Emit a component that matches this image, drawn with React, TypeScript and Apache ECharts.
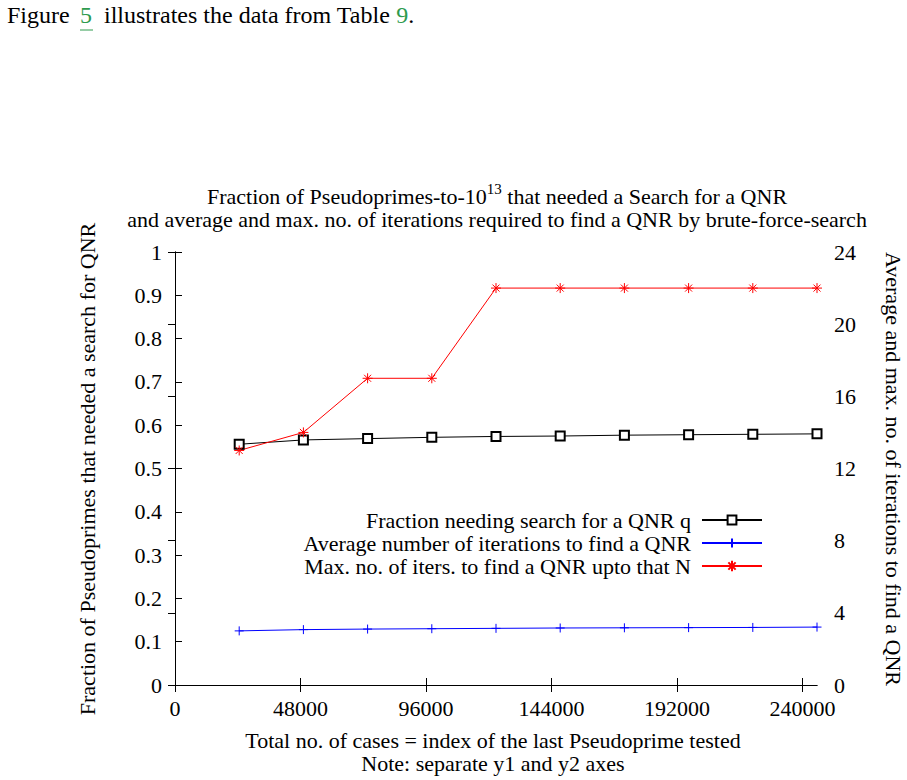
import React, { useEffect, useRef } from "react";
import * as echarts from "echarts";

const xCases = [24550, 49100, 73650, 98200, 122750, 147300, 171850, 196400, 220950, 245500];
const fractionNeeding = [0.556, 0.566, 0.569, 0.572, 0.574, 0.575, 0.577, 0.578, 0.579, 0.58];
const avgIterations = [3.0, 3.07, 3.1, 3.12, 3.14, 3.16, 3.17, 3.18, 3.19, 3.21];
const maxIterations = [13, 14, 17, 17, 22, 22, 22, 22, 22, 22];
const xTicks = [0, 48000, 96000, 144000, 192000, 240000];

const seriesNames = [
  "Fraction needing search for a QNR q",
  "Average number of iterations to find a QNR",
  "Max. no. of iters. to find a QNR upto that N",
];

const FONT = "Liberation Serif";
const GREEN = "#2e9b4e";
const FS = 22;

function zip(xs: number[], ys: number[]) {
  return xs.map((x, i) => [x, ys[i]]);
}

export default function App() {
  const ref = useRef<HTMLDivElement>(null);

  useEffect(() => {
    if (!ref.current) return;
    const chart = echarts.init(ref.current, undefined, { renderer: "svg" });
    const txt = { fontFamily: FONT, fontSize: FS, color: "#000" };
    const font = `${FS}px "${FONT}"`;
    const axisCommon = {
      axisLine: { show: true, lineStyle: { color: "#000", width: 1 } },
      axisTick: { show: true, inside: true, length: 7, lineStyle: { color: "#000", width: 1 } },
      splitLine: { show: false },
    };
    const legendCommon = {
      orient: "vertical",
      align: "right",
      right: 144,
      itemWidth: 60,
      itemHeight: 11,
      padding: 0,
      itemGap: 0,
      textStyle: { ...txt, padding: [0, 6, 0, 0] },
    };
    chart.setOption({
      animation: false,
      grid: { left: 175, right: 90, top: 252, bottom: 95 },
      xAxis: [
        {
          type: "value",
          min: 0,
          max: 245500,
          interval: 48000,
          position: "bottom",
          ...axisCommon,
          axisTick: { ...axisCommon.axisTick, customValues: xTicks },
          axisLabel: {
            ...txt,
            margin: 12,
            customValues: xTicks,
            formatter: (v: number) => String(v),
          },
        },
        {
          type: "value",
          min: 0,
          max: 245500,
          interval: 48000,
          position: "top",
          ...axisCommon,
          axisTick: { ...axisCommon.axisTick, customValues: xTicks },
          axisLabel: { show: false },
        },
      ],
      yAxis: [
        {
          type: "value",
          min: 0,
          max: 1,
          interval: 0.1,
          position: "left",
          ...axisCommon,
          axisLabel: { ...txt, margin: 13 },
        },
        {
          type: "value",
          min: 0,
          max: 24,
          interval: 4,
          position: "right",
          ...axisCommon,
          axisLabel: { ...txt, margin: 17 },
        },
      ],
      legend: [
        { ...legendCommon, top: 509, data: [seriesNames[0]] },
        { ...legendCommon, top: 532, data: [seriesNames[1]] },
        { ...legendCommon, top: 555, itemHeight: 13, data: [seriesNames[2]] },
      ],
      series: [
        {
          name: seriesNames[0],
          type: "line",
          xAxisIndex: 0,
          yAxisIndex: 0,
          data: zip(xCases, fractionNeeding),
          symbol: "emptyRect",
          symbolSize: 9,
          clip: false,
          color: "#000",
          lineStyle: { color: "#000", width: 1 },
          itemStyle: { color: "#000", borderColor: "#000", borderWidth: 1 },
        },
        {
          name: seriesNames[1],
          type: "line",
          xAxisIndex: 0,
          yAxisIndex: 1,
          data: zip(xCases, avgIterations),
          symbol: "path://M5,0L5,10M0,5L10,5",
          symbolSize: 9,
          clip: false,
          color: "#0000ff",
          lineStyle: { color: "#0000ff", width: 1 },
          itemStyle: { color: "#0000ff", borderColor: "#0000ff", borderWidth: 1 },
        },
        {
          name: seriesNames[2],
          type: "line",
          xAxisIndex: 0,
          yAxisIndex: 1,
          data: zip(xCases, maxIterations),
          symbol: "path://M5,0L5,10M0,5L10,5M1.5,1.5L8.5,8.5M8.5,1.5L1.5,8.5",
          symbolSize: 10,
          clip: false,
          color: "#ff0000",
          lineStyle: { color: "#ff0000", width: 1 },
          itemStyle: { color: "#ff0000", borderColor: "#ff0000", borderWidth: 1 },
        },
      ],
      graphic: [
        {
          type: "text",
          left: 7,
          top: 3,
          style: { text: "Figure", font: `24px "${FONT}"`, fill: "#000" },
        },
        {
          type: "text",
          left: 80,
          top: 3,
          style: { text: "5", font: `24px "${FONT}"`, fill: GREEN },
        },
        {
          type: "line",
          shape: { x1: 80, y1: 30, x2: 93, y2: 30 },
          style: { stroke: GREEN, lineWidth: 1 },
        },
        {
          type: "text",
          left: 104,
          top: 3,
          style: {
            text: "illustrates the data from Table {g|9}.",
            font: `24px "${FONT}"`,
            fill: "#000",
            rich: { g: { fill: GREEN, font: `24px "${FONT}"` } },
          },
        },
        {
          type: "text",
          x: 497,
          y: 181,
          style: {
            text:
              "Fraction of Pseudoprimes-to-10{sup|13} that needed a Search for a QNR\n" +
              "{l2|and average and max. no. of iterations required to find a QNR by brute-force-search}",
            font,
            fill: "#000",
            align: "center",
            verticalAlign: "top",
            lineHeight: 30,
            rich: {
              sup: { font: `15px "${FONT}"`, fill: "#000", verticalAlign: "top", lineHeight: 10 },
              l2: { font, fill: "#000", lineHeight: 16 },
            },
          },
        },
        {
          type: "text",
          x: 87,
          y: 469,
          rotation: Math.PI / 2,
          style: {
            text: "Fraction of Pseudoprimes that needed a search for QNR",
            font,
            fill: "#000",
            align: "center",
            verticalAlign: "middle",
          },
        },
        {
          type: "text",
          x: 893,
          y: 469,
          rotation: -Math.PI / 2,
          style: {
            text: "Average and max. no. of iterations to find a QNR",
            font,
            fill: "#000",
            align: "center",
            verticalAlign: "middle",
          },
        },
        {
          type: "text",
          x: 493,
          y: 751.5,
          style: {
            text: "Total no. of cases = index of the last Pseudoprime tested\nNote: separate y1 and y2 axes",
            font,
            fill: "#000",
            align: "center",
            verticalAlign: "middle",
            lineHeight: 23,
          },
        },
      ],
    });
    return () => chart.dispose();
  }, []);

  return (
    <div
      ref={ref}
      style={{ position: "absolute", left: 0, top: 0, width: 907, height: 780, background: "#fff" }}
    />
  );
}
